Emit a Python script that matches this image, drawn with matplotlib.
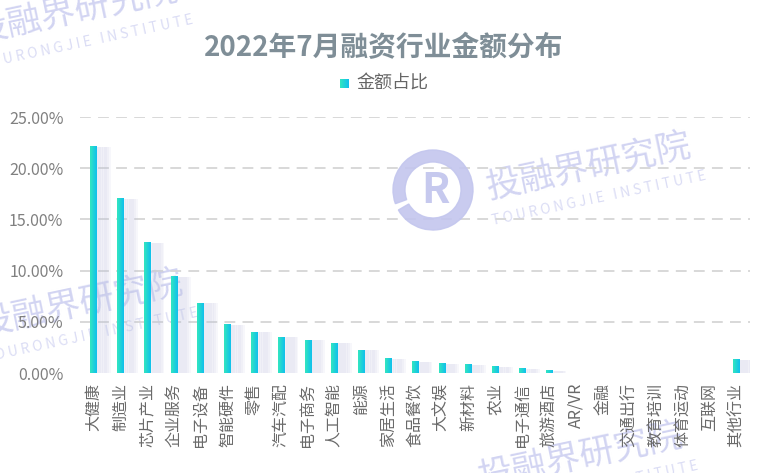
import numpy as np
import matplotlib.pyplot as plt
from matplotlib.colors import LinearSegmentedColormap
from matplotlib.patches import Wedge

plt.rcParams['font.family'] = ['Noto Sans CJK SC', 'DejaVu Sans']

# --- Data ---
TITLE = "2022年7月融资行业金额分布"
SERIES_NAME = "金额占比"
industries = ["大健康", "制造业", "芯片产业", "企业服务", "电子设备", "智能硬件", "零售",
              "汽车汽配", "电子商务", "人工智能", "能源", "家居生活", "食品餐饮", "大文娱",
              "新材料", "农业", "电子通信", "旅游酒店", "AR/VR", "金融", "交通出行",
              "教育培训", "体育运动", "互联网", "其他行业"]
share = [22.1, 17.0, 12.7, 9.4, 6.8, 4.7, 4.0, 3.5, 3.2, 2.9, 2.2, 1.4, 1.1, 0.9,
         0.8, 0.6, 0.4, 0.2, 0.0, 0.0, 0.0, 0.0, 0.0, 0.0, 1.3]
y_ticks = [0, 5, 10, 15, 20, 25]

W, H = 768, 473
fig = plt.figure(figsize=(W / 100, H / 100), dpi=100)
ax = fig.add_axes([80 / W, 1 - 373 / H, 670 / W, 256 / H])
ax.set_facecolor('none')

grad = LinearSegmentedColormap.from_list("bar", ["#32e6c0", "#10c0ec"])
x = np.arange(len(industries))
bw = 0.24

# soft shadow on the right of each bar
for k in range(8):
    ax.bar(x + 0.06 + k * 0.07, share, width=0.2, color="#bfc3e0",
           alpha=0.12, linewidth=0, zorder=1)

bars = ax.bar(x, share, width=bw, color='none', linewidth=0, zorder=2)
g = np.linspace(0, 1, 32).reshape(1, -1)
for b in bars:
    if b.get_height() <= 0:
        continue
    ax.imshow(g, cmap=grad, aspect='auto', zorder=3,
              extent=[b.get_x(), b.get_x() + b.get_width(), 0, b.get_height()])

ax.set_xlim(-0.5, len(industries) - 0.5)
ax.set_ylim(0, 25)
ax.set_yticks(y_ticks)
ax.set_yticklabels([f"{v:.2f}%" for v in y_ticks], fontsize=11.5, color="#808080")
ax.set_xticks(x)
ax.set_xticklabels(industries, rotation=90, fontsize=11.5, color="#6a6a6a")
ax.tick_params(axis='both', length=0)
ax.tick_params(axis='y', pad=12)
ax.tick_params(axis='x', pad=7)
for s in ax.spines.values():
    s.set_visible(False)
for v in y_ticks[1:]:
    ax.axhline(v, color="#d6d6d6", lw=1.3, ls=(0, (6, 4)), zorder=0)

# title and legend
fig.text(384 / W, 1 - 48 / H, TITLE, ha='center', va='center', fontsize=20,
         fontweight='bold', color="#7f8e97")
lax = fig.add_axes([340 / W, 1 - 88 / H, 9 / W, 9 / H])
lax.imshow(g, cmap=grad, aspect='auto')
lax.axis('off')
fig.text(356 / W, 1 - 84 / H, SERIES_NAME, ha='left', va='center', fontsize=13,
         color="#666666")

# watermarks
wm = "#c3c6ee"
def mark(px, py, rot=12, big=25, small=10):
    fig.text(px / W, 1 - py / H, "投融界研究院", fontsize=big, color=wm, alpha=0.75,
             rotation=rot, ha='left', va='center', zorder=-1)
    fig.text((px + 8) / W, 1 - (py + 30) / H, "T O U R O N G J I E   I N S T I T U T E",
             fontsize=small, color=wm, alpha=0.6, rotation=rot, ha='left',
             va='center', zorder=-1)

mark(483, 168)
mark(-25, 305)
mark(-30, 12)
mark(475, 458)
logo = fig.add_axes([383 / W, 1 - 240 / H, 100 / W, 100 / H])
logo.set_xlim(-1, 1)
logo.set_ylim(-1, 1)
logo.set_aspect('equal')
logo.axis('off')
logo.add_patch(Wedge((0, 0), 0.8, -150, 200, width=0.24, color=wm, alpha=0.9))
logo.text(0.05, -0.02, "R", fontsize=30, fontweight='bold', color=wm,
          ha='center', va='center', alpha=0.95)

fig.savefig("out.png", dpi=100)
